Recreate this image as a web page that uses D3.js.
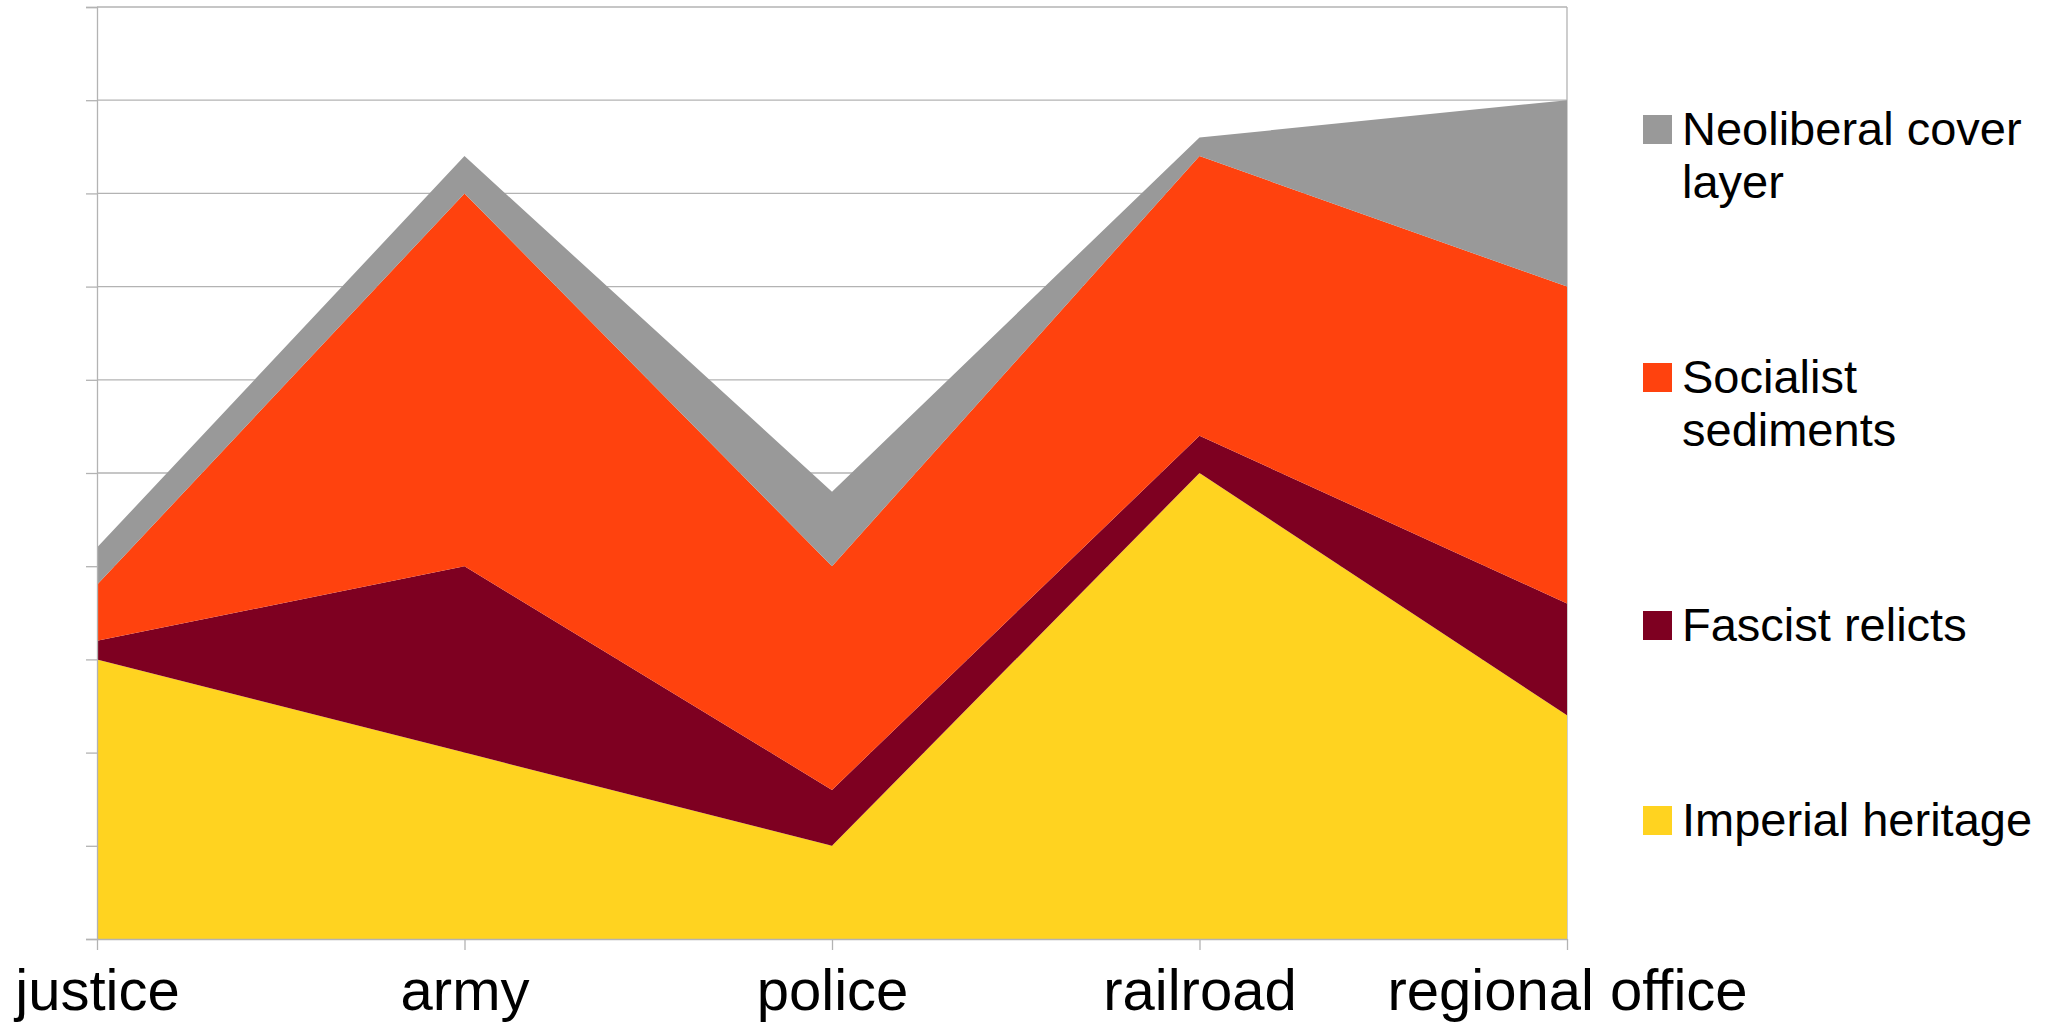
<!DOCTYPE html>
<html>
<head>
<meta charset="utf-8">
<script src="https://cdn.jsdelivr.net/npm/d3@7"></script>
<style>
  body { margin: 0; background: #fff; }
  text { font-family: "Liberation Sans", Arial, sans-serif; fill: #000; }
</style>
</head>
<body>
<div id="chart"></div>
<script>
// categories along the x axis
var categories = ["justice", "army", "police", "railroad", "regional office"];

// series, bottom to top of the stack (values in grid units)
var seriesNames = ["Imperial heritage", "Fascist relicts", "Socialist sediments", "Neoliberal cover layer"];
var imperial    = [3.0, 2.0, 1.0, 5.0, 2.4];
var fascist     = [0.2, 2.0, 0.6, 0.4, 1.2];
var socialist   = [0.6, 4.0, 2.4, 3.0, 3.4];
var neoliberal  = [0.4, 0.4, 0.8, 0.2, 2.0];
var seriesColors = ["#ffd320", "#7e0021", "#ff420e", "#999999"];

// legend lists the top series first, with wrapped lines
var legendLines = [["Neoliberal cover", "layer"], ["Socialist", "sediments"], ["Fascist relicts"], ["Imperial heritage"]];

var svgWidth = 2064;
var svgHeight = 1022;
var margin = { top: 7, right: 497, bottom: 83, left: 97 };
var width = svgWidth - margin.left - margin.right;
var height = svgHeight - margin.top - margin.bottom;

var svg = d3.select("#chart")
    .append("svg")
    .attr("width", svgWidth)
    .attr("height", svgHeight);

var chartGroup = svg.append("g")
    .attr("transform", `translate(${margin.left}, ${margin.top})`);

// build rows for d3.stack
var rows = categories.map(function(c, i) {
    return {
        cat: c,
        "Imperial heritage": imperial[i],
        "Fascist relicts": fascist[i],
        "Socialist sediments": socialist[i],
        "Neoliberal cover layer": neoliberal[i]
    };
});

var stacked = d3.stack().keys(seriesNames)(rows);

var xScale = d3.scalePoint()
    .domain(categories)
    .range([0, width]);

var yScale = d3.scaleLinear()
    .domain([0, 10])
    .range([height, 0]);

// horizontal grid lines
chartGroup.append("g")
    .selectAll("line")
    .data(yScale.ticks(10))
    .enter()
    .append("line")
    .attr("x1", 0)
    .attr("x2", width)
    .attr("y1", d => yScale(d))
    .attr("y2", d => yScale(d))
    .attr("stroke", "#b3b3b3")
    .attr("stroke-width", 1.3);

// right edge line
chartGroup.append("line")
    .attr("x1", width).attr("x2", width)
    .attr("y1", 0).attr("y2", height)
    .attr("stroke", "#b3b3b3")
    .attr("stroke-width", 1.3);

// areas
var area = d3.area()
    .x(d => xScale(d.data.cat))
    .y0(d => yScale(d[0]))
    .y1(d => yScale(d[1]));

chartGroup.selectAll("path.layer")
    .data(stacked)
    .enter()
    .append("path")
    .attr("class", "layer")
    .attr("d", area)
    .attr("fill", (d, i) => seriesColors[i]);

// y axis (ticks only, no labels)
var leftAxis = d3.axisLeft(yScale)
    .ticks(10)
    .tickSize(11)
    .tickFormat("");

var yAxis = chartGroup.append("g").call(leftAxis);
yAxis.selectAll("line, path").attr("stroke", "#b3b3b3").attr("stroke-width", 1.3);

// x axis
var bottomAxis = d3.axisBottom(xScale)
    .tickSize(11)
    .tickSizeOuter(0)
    .tickPadding(8);

var xAxis = chartGroup.append("g")
    .attr("transform", `translate(0, ${height})`)
    .call(bottomAxis);
xAxis.selectAll("line, path").attr("stroke", "#b3b3b3").attr("stroke-width", 1.3);
xAxis.selectAll("text")
    .attr("y", 71)
    .attr("dy", 0)
    .style("font-family", "'Liberation Sans', Arial, sans-serif")
    .style("font-size", "58px")
    .attr("fill", "#000");

// legend
var legend = svg.append("g").attr("transform", "translate(1643, 0)");
var baseline = 145;
legendLines.forEach(function(lines, i) {
    var color = seriesColors[seriesNames.length - 1 - i];
    legend.append("rect")
        .attr("x", 0)
        .attr("y", baseline - 30)
        .attr("width", 29)
        .attr("height", 29)
        .attr("fill", color);
    var t = legend.append("text")
        .attr("x", 39)
        .attr("y", baseline)
        .style("font-size", "47px");
    lines.forEach(function(line, j) {
        t.append("tspan")
            .attr("x", 39)
            .attr("y", baseline + j * 53)
            .text(line);
    });
    baseline += (lines.length - 1) * 53 + 195;
});
</script>
</body>
</html>
